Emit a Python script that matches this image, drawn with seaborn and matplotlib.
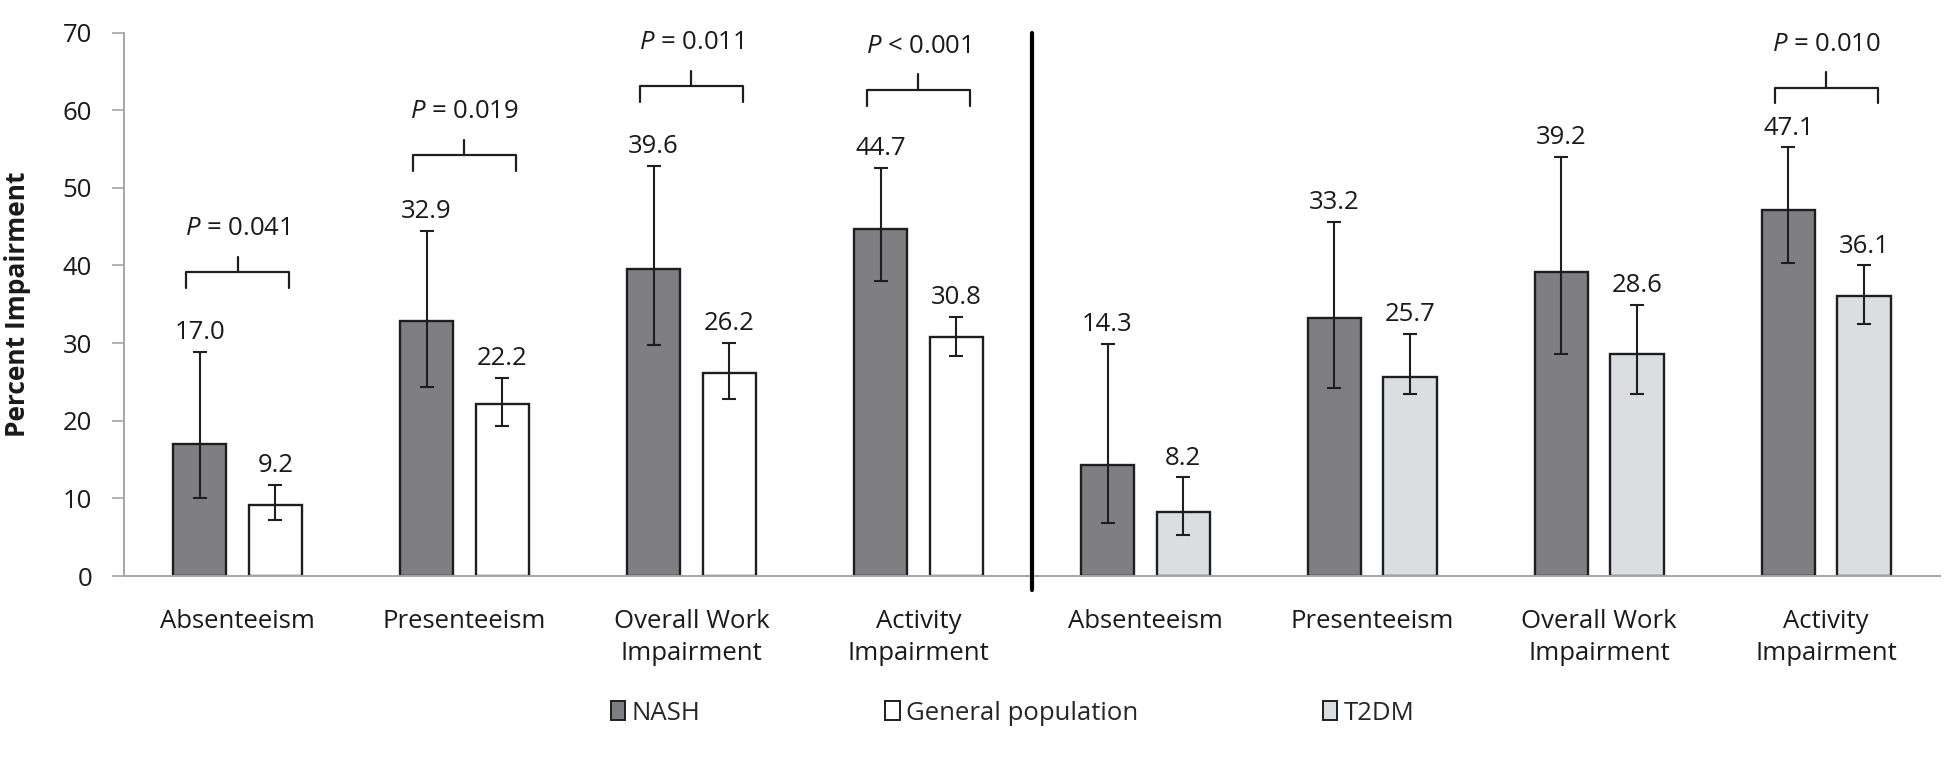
import numpy as np
import pandas as pd
import matplotlib
matplotlib.use("Agg")
import matplotlib.pyplot as plt
import seaborn as sns
from matplotlib.patches import Patch

# work productivity outcomes, NASH vs general population (left) and vs T2DM (right)
outcomes = ["Absenteeism", "Presenteeism", "Overall Work\nImpairment", "Activity\nImpairment"]
cohorts = ["GP", "T2DM"]

nash_vals = [17.0, 32.9, 39.6, 44.7, 14.3, 33.2, 39.2, 47.1]
nash_lo = [10.0, 24.4, 29.7, 38.0, 6.8, 24.2, 28.6, 40.3]
nash_hi = [28.9, 44.4, 52.8, 52.6, 29.9, 45.6, 54.0, 55.2]

comp_vals = [9.2, 22.2, 26.2, 30.8, 8.2, 25.7, 28.6, 36.1]
comp_lo = [7.2, 19.3, 22.8, 28.3, 5.3, 23.4, 23.5, 32.5]
comp_hi = [11.7, 25.5, 30.0, 33.4, 12.7, 31.2, 34.9, 40.0]

# p-value brackets: which position, text, height of bracket
p_pos = [0, 1, 2, 3, 7]
p_text = ["= 0.041", "= 0.019", "= 0.011", "< 0.001", "= 0.010"]
p_level = [39.1, 54.2, 63.1, 62.6, 62.9]

legend_names = ["NASH", "General population", "T2DM"]

nash_col = "#7e7f83"
gp_col = "#ffffff"
t2_col = "#dcdde0"
edge_col = "#1e1e1e"
fs = 18.5

sns.set_theme(style="white")
plt.rcParams["font.family"] = ["Open Sans", "DejaVu Sans"]
plt.rcParams["mathtext.fontset"] = "custom"
plt.rcParams["mathtext.it"] = "Open Sans:italic"
plt.rcParams["mathtext.rm"] = "Open Sans"

keys = [o + "|" + c for c in cohorts for o in outcomes]
df = pd.DataFrame({
    "key": keys * 2,
    "group": ["NASH"] * 8 + ["Comparator"] * 8,
    "value": nash_vals + comp_vals,
})

fig = plt.figure(figsize=(19.44, 7.57), dpi=100)
ax = fig.add_axes([0.0638, 0.239, 0.934, 0.718])

sns.barplot(data=df, x="key", y="value", hue="group", order=keys,
            hue_order=["NASH", "Comparator"], palette=[nash_col, gp_col],
            width=0.667, gap=0.295, errorbar=None, legend=False, ax=ax)

bars = ax.patches[:16]
lows = nash_lo + comp_lo
highs = nash_hi + comp_hi
vals = nash_vals + comp_vals
centers = []
for i, p in enumerate(bars):
    if i >= 12:
        p.set_facecolor(t2_col)
    p.set_edgecolor(edge_col)
    p.set_linewidth(1.7)
    cx = p.get_x() + p.get_width() / 2
    centers.append(cx)
    v = vals[i]
    ax.errorbar(cx, v, yerr=[[v - lows[i]], [highs[i] - v]], fmt="none",
                ecolor=edge_col, elinewidth=1.5, capsize=5, capthick=1.5, zorder=5)
    ax.annotate(f"{v:.1f}", (cx, highs[i]), xytext=(0, 5), textcoords="offset points",
                ha="center", va="bottom", fontsize=fs, color="#1a1a1a")

# significance brackets
for k, pos in enumerate(p_pos):
    x0 = centers[pos] - 0.06
    x1 = centers[pos + 8] + 0.06
    y = p_level[k]
    xm = (x0 + x1) / 2
    ax.plot([x0, x0, x1, x1], [y - 2, y, y, y - 2], color=edge_col, lw=1.6, solid_joinstyle="round")
    ax.plot([xm, xm], [y, y + 2], color=edge_col, lw=1.6)
    ax.text(xm, y + 5.6, "$P$ " + p_text[k], ha="center", va="center", fontsize=fs, color="#1a1a1a")

# divider between the two comparisons
ax.axvline(3.5, ymin=-0.025, ymax=1, color="black", lw=3, clip_on=False, zorder=6)

ax.set_ylim(0, 70)
ax.set_xlim(-0.5, 7.5)
ax.set_yticks(np.arange(0, 71, 10))
ax.set_xticks(range(8))
ax.set_xticklabels(outcomes * 2)
ax.set_xticks(np.arange(-0.5, 8, 1), minor=True)
ax.tick_params(axis="x", which="major", length=0, pad=24, labelsize=fs, labelcolor="#1a1a1a")
ax.tick_params(axis="x", which="minor", length=9, width=1.2, color="#a6a6a6", direction="out")
ax.tick_params(axis="y", length=9, width=1.2, color="#a6a6a6", direction="out", pad=14,
               labelsize=fs, labelcolor="#1a1a1a", left=True)
for lbl in ax.get_xticklabels():
    lbl.set_linespacing(1.35)
    lbl.set_verticalalignment("top")

ax.set_xlabel("")
ax.set_ylabel("Percent Impairment", fontsize=19, fontweight="bold", color="#1a1a1a")
ax.yaxis.set_label_coords(-0.051, 0.5)

for s in ["top", "right"]:
    ax.spines[s].set_visible(False)
for s in ["left", "bottom"]:
    ax.spines[s].set_color("#a6a6a6")
    ax.spines[s].set_linewidth(1.4)

handles = [Patch(facecolor=c, edgecolor=edge_col, linewidth=1.4) for c in [nash_col, gp_col, t2_col]]
fig.legend(handles, legend_names, loc="center", bbox_to_anchor=(0.521, 0.058), ncol=3,
           frameon=False, fontsize=fs, handlelength=0.55, handleheight=0.75,
           handletextpad=0.25, columnspacing=7.2)

fig.savefig("out.png", dpi=100)
